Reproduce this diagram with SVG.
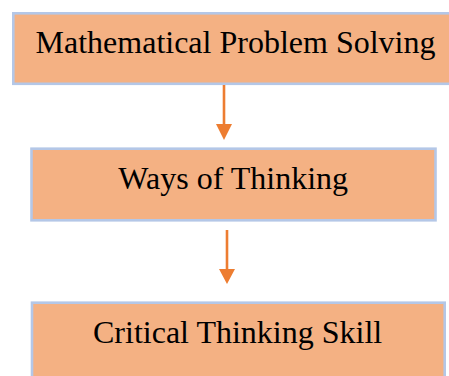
<svg xmlns="http://www.w3.org/2000/svg" width="449" height="376" viewBox="0 0 449 376">
  <style>
    .box { fill: #f4b183; stroke: #b4c7e7; stroke-width: 2.6; }
    .label { font-family: "Liberation Serif", "Times New Roman", serif; font-size: 32px; fill: #000; text-anchor: middle; }
    .link { stroke: #ed7d31; stroke-width: 2.6; fill: none; }
    .head { fill: #ed7d31; }
  </style>
  <rect width="449" height="376" fill="#ffffff"/>

  <g id="node-problem-solving">
    <rect class="box" x="13.3" y="13.3" width="450" height="70.5"/>
    <text class="label" x="235.5" y="53.3">Mathematical Problem Solving</text>
  </g>

  <g id="node-ways-of-thinking">
    <rect class="box" x="31.5" y="148.7" width="404" height="71.6"/>
    <text class="label" x="233.2" y="189.3">Ways of Thinking</text>
  </g>

  <g id="node-critical-thinking">
    <rect class="box" x="32" y="302.7" width="412.7" height="90"/>
    <text class="label" x="237.6" y="342.8">Critical Thinking Skill</text>
  </g>

  <g id="connectors">
    <line class="link" x1="224" y1="85" x2="224" y2="125"/>
    <polygon class="head" points="216,124 232,124 224,140"/>
    <line class="link" x1="227" y1="230" x2="227" y2="270"/>
    <polygon class="head" points="219,269 235,269 227,284"/>
  </g>
</svg>
